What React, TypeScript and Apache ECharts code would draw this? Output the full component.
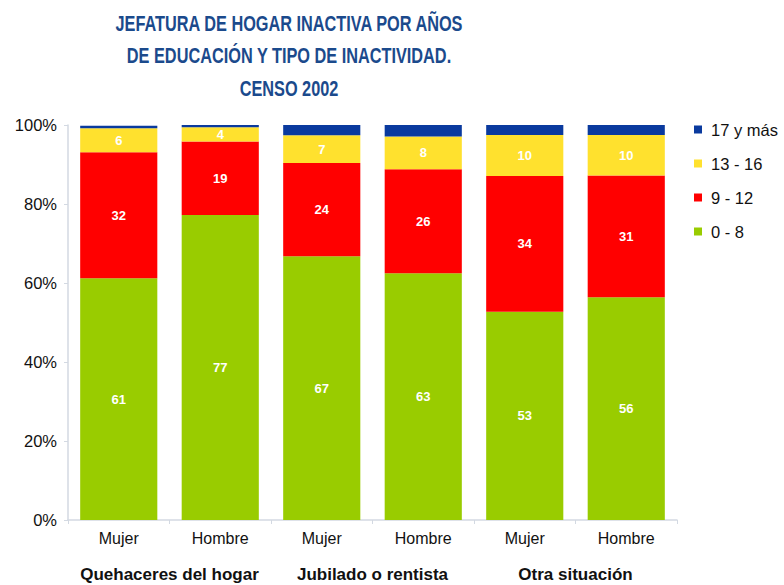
import React, { useEffect, useRef } from "react";
import * as echarts from "echarts";

const sexLabels = ["Mujer", "Hombre", "Mujer", "Hombre", "Mujer", "Hombre"];
const groupLabels = ["Quehaceres del hogar", "Jubilado o rentista", "Otra situación"];
const seriesNames = ["0 - 8", "9 - 12", "13 - 16", "17 y más"];
const edu0to8 = [61.2, 77.2, 66.8, 62.5, 52.7, 56.4];
const edu9to12 = [31.9, 18.6, 23.6, 26.3, 34.4, 30.8];
const edu13to16 = [6.1, 3.6, 7.0, 8.3, 10.4, 10.3];
const edu17plus = [0.6, 0.6, 2.6, 2.9, 2.5, 2.5];
const yTicks = [0, 20, 40, 60, 80, 100];
const titleLines = [
  "JEFATURA DE HOGAR INACTIVA POR AÑOS",
  "DE EDUCACIÓN Y TIPO DE INACTIVIDAD.",
  "CENSO 2002",
];

const colors = ["#99cc00", "#ff0000", "#ffe12e", "#0a3a9e"];
const FONT = "Arial, 'Liberation Sans', Helvetica, sans-serif";

export default function App() {
  const ref = useRef<HTMLDivElement>(null);
  useEffect(() => {
    if (!ref.current) return;
    const chart = echarts.init(ref.current, undefined, { renderer: "svg" });
    const values = [edu0to8, edu9to12, edu13to16, edu17plus];
    const option: any = {
      animation: false,
      backgroundColor: "#ffffff",
      textStyle: { fontFamily: FONT },
      graphic: titleLines.map((t, i) => ({
        type: "text",
        x: 289,
        y: 13 + i * 32.7,
        scaleY: 1.3,
        style: {
          text: t,
          fill: "#1b4a8c",
          font: `bold 16.3px ${FONT}`,
          textAlign: "center",
          textVerticalAlign: "top",
        },
      })),
      legend: {
        orient: "vertical",
        left: 689,
        top: 116,
        itemWidth: 8,
        itemHeight: 8,
        itemGap: 17,
        icon: "rect",
        data: [...seriesNames].reverse(),
        textStyle: { fontSize: 16.5, color: "#111", lineHeight: 17, padding: [0, 0, 0, 4], fontFamily: FONT },
      },
      grid: { left: 68, right: 107, top: 125, bottom: 65, containLabel: false },
      xAxis: [
        {
          type: "category",
          data: sexLabels.map((s, i) => `${s}#${i}`),
          axisLine: { show: true, lineStyle: { color: "#d3d9e2", width: 1.5 } },
          axisTick: { show: true, length: 4, lineStyle: { color: "#d3d9e2" } },
          axisLabel: {
            interval: 0,
            formatter: (_v: string, i: number) => sexLabels[i],
            fontSize: 16,
            color: "#111",
            margin: 10,
            fontFamily: FONT,
          },
        },
        {
          type: "category",
          position: "bottom",
          offset: 36,
          data: groupLabels,
          axisLine: { show: false },
          axisTick: { show: false },
          axisLabel: { interval: 0, fontSize: 17, fontWeight: "bold", color: "#111", margin: 10, fontFamily: FONT },
        },
      ],
      yAxis: {
        type: "value",
        min: yTicks[0],
        max: yTicks[yTicks.length - 1],
        interval: 20,
        axisLine: { show: true, lineStyle: { color: "#d3d9e2", width: 1.5 } },
        axisTick: { show: true, length: 4, lineStyle: { color: "#d3d9e2" } },
        splitLine: { show: false },
        axisLabel: { formatter: "{value}%", fontSize: 16.5, color: "#111", margin: 11, fontFamily: FONT },
      },
      series: seriesNames.map((name, k) => ({
        name,
        type: "bar",
        stack: "total",
        xAxisIndex: 0,
        barCategoryGap: "24%",
        data: values[k],
        itemStyle: { color: colors[k] },
        label: {
          show: k < 3,
          position: "inside",
          formatter: (p: any) => String(Math.round(p.value)),
          color: "#ffffff",
          fontWeight: "bold",
          fontSize: 13,
          fontFamily: FONT,
        },
      })),
    };
    chart.setOption(option);
    return () => chart.dispose();
  }, []);
  return <div ref={ref} style={{ width: 784, height: 585, position: "absolute", left: 0, top: 0 }} />;
}
